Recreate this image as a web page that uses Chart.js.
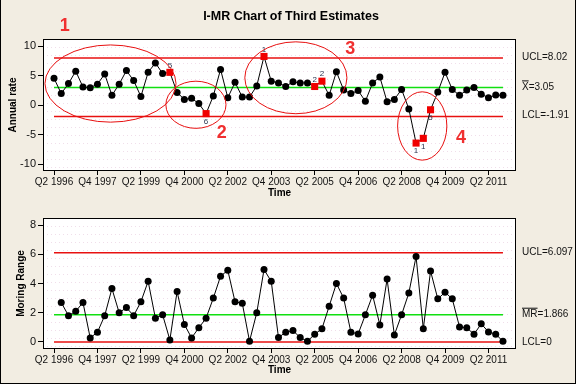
<!DOCTYPE html>
<html>
<head>
<meta charset="utf-8">
<script src="https://cdn.jsdelivr.net/npm/chart.js@4"></script>
<style>
  html, body { margin: 0; padding: 0; }
  body { width: 576px; height: 384px; background: #f2ede2; position: relative; overflow: hidden; }
  canvas { position: absolute; left: 0; }
  #topChart { top: 0; }
  #botChart { top: 200px; }
  #frame { position: absolute; left: 0; top: 0; width: 574px; height: 383px;
           border-left: 1px solid #000; border-right: 1px solid #000; border-bottom: 1px solid #000; }
</style>
</head>
<body>
<canvas id="topChart" width="576" height="200"></canvas>
<canvas id="botChart" width="576" height="184"></canvas>
<div id="frame"></div>
<script>
// quarters Q2 1996 .. Q4 2011, one point per quarter
const tickLabels = ['Q2 1996','Q4 1997','Q2 1999','Q4 2000','Q2 2002','Q4 2003','Q2 2005','Q4 2006','Q2 2008','Q4 2009','Q2 2011'];
const tickIndex = [0, 6, 12, 18, 24, 30, 36, 42, 48, 54, 60];

const individuals = [
  4.6, 2.0, 3.7, 5.8, 3.1, 3.0, 3.6, 5.3, 1.7, 3.6,
  5.9, 4.2, 1.5, 5.6, 7.2, 5.4, 5.6, 2.2, 1.0, 1.2,
  0.3, -1.4, 1.6, 6.1, 1.3, 3.9, 1.4, 1.4, 3.3, 8.3,
  4.1, 3.8, 3.2, 4.0, 3.8, 3.8, 3.2, 4.1, 1.7, 5.7,
  2.6, 2.0, 2.5, 0.7, 3.8, 4.8, 0.6, 1.0, 2.7, -0.6,
  -6.4, -5.6, -0.75, 2.25, 5.6, 2.7, 1.7, 2.6, 3.05, 1.9,
  1.3, 1.75, 1.7
];

const movingRanges = [
  null, 2.7, 1.8, 2.1, 2.7, 0.28, 0.67, 1.8, 3.65, 2.0,
  2.35, 1.8, 2.75, 4.15, 1.63, 1.86, 0.14, 3.45, 1.2, 0.28,
  0.97, 1.63, 3.0, 4.5, 4.9, 2.75, 2.65, 0.05, 2.0, 4.95,
  4.15, 0.3, 0.67, 0.78, 0.3, 0.05, 0.53, 0.9, 2.45, 4.0,
  3.0, 0.67, 0.55, 1.86, 3.2, 1.17, 4.3, 0.48, 1.86, 3.35,
  5.84, 0.9, 4.85, 2.95, 3.4, 2.95, 1.03, 0.97, 0.53, 1.24,
  0.69, 0.53, 0.05
];

// points failing a test: index, test number, label above?
const flagIndex = [16, 21, 29, 36, 37, 50, 51, 52];
const flagTest  = ['5', '6', '1', '2', '2', '1', '1', '5'];
const flagUp    = [true, false, true, true, true, false, false, false];

const iUCL = 8.02, iMean = 3.05, iLCL = -1.91;
const mrUCL = 6.097, mrMean = 1.866, mrLCL = 0;

// red circled regions on the I chart (data units)
const regionNames = ['1', '2', '3', '4'];
const regionX  = [7.8, 19.6, 33.4, 50.85];
const regionY  = [3.7, 0.1, 4.68, -3.5];
const regionRX = [9.05, 4.15, 7.05, 3.4];
const regionRY = [6.55, 4.0, 6.1, 5.8];
const regionLabelX = [1.5, 23.15, 40.9, 56.2];
const regionLabelY = [13.45, -4.7, 9.6, -5.5];

const RED = '#e81010', GREEN = '#10e010';
const FONT = "'Liberation Sans', Arial, sans-serif";
const last = individuals.length - 1;

function hline(v, color) {
  return { data: [{x: 0, y: v}, {x: last, y: v}], borderColor: color, borderWidth: 1.5,
           pointRadius: 0, fill: false, order: 2 };
}

function xScale(height, titlePad) {
  return {
    type: 'linear', min: -1.52, max: 63.8,
    afterBuildTicks: s => { s.ticks = tickIndex.map(v => ({value: v})); },
    afterFit: s => { s.height = height; },
    ticks: { callback: v => tickLabels[tickIndex.indexOf(v)], maxRotation: 0, autoSkip: false,
             padding: 1, color: '#111', font: {family: FONT, size: 10} },
    grid: { drawOnChartArea: false, tickLength: 4, color: '#000' },
    border: { display: false },
    title: { display: true, text: 'Time', color: '#000', padding: {top: 0, bottom: titlePad},
             font: {family: FONT, size: 10, weight: 'bold'} }
  };
}

function yScale(min, max, ticks, title, titlePad) {
  return {
    min: min, max: max,
    afterBuildTicks: s => { s.ticks = ticks.map(v => ({value: v})); },
    afterFit: s => { s.width = 43; },
    ticks: { padding: 2, color: '#111', font: {family: FONT, size: 11} },
    grid: { drawOnChartArea: false, tickLength: 5, color: '#000' },
    border: { display: false },
    title: { display: true, text: title, color: '#000', padding: {top: titlePad, bottom: 0},
             font: {family: FONT, size: 10, weight: 'bold'} }
  };
}

const plotFrame = {
  id: 'plotFrame',
  beforeDatasetsDraw(chart) {
    const {ctx, chartArea: a} = chart;
    ctx.save();
    ctx.fillStyle = '#fff';
    ctx.fillRect(a.left, a.top, a.width, a.height);
    // faint dotted background rows
    ctx.strokeStyle = 'rgba(230,200,220,0.6)';
    ctx.setLineDash([1, 3]);
    ctx.lineWidth = 1;
    for (let y = a.top + 8; y < a.bottom; y += 8) {
      ctx.beginPath(); ctx.moveTo(a.left, y + 0.5); ctx.lineTo(a.right, y + 0.5); ctx.stroke();
    }
    ctx.setLineDash([]);
    ctx.strokeStyle = '#000';
    ctx.strokeRect(a.left + 0.5, a.top + 0.5, a.width - 1, a.height - 1);
    ctx.restore();
  }
};

function sideLabels(items) {
  return {
    id: 'sideLabels',
    afterDraw(chart) {
      const {ctx, chartArea: a, scales: {y}} = chart;
      ctx.save();
      ctx.font = '10px ' + FONT;
      ctx.fillStyle = '#111';
      ctx.textBaseline = 'middle';
      const x0 = a.right + 6;
      items.forEach(it => {
        const py = y.getPixelForValue(it.v) + (it.dy || 0);
        ctx.fillText(it.text, x0, py);
        if (it.bar) {
          const w = ctx.measureText(it.bar).width;
          ctx.fillRect(x0, py - 7, w, 1);
        }
      });
      ctx.restore();
    }
  };
}

const topDecor = {
  id: 'topDecor',
  afterDraw(chart) {
    const {ctx, scales: {x, y}} = chart;
    ctx.save();
    // title
    ctx.font = 'bold 12.5px ' + FONT;
    ctx.fillStyle = '#000';
    ctx.textAlign = 'center';
    ctx.textBaseline = 'middle';
    ctx.fillText('I-MR Chart of Third Estimates', 291, 17);
    // test numbers next to flagged points
    ctx.font = '8px ' + FONT;
    ctx.fillStyle = '#2a3550';
    flagIndex.forEach((idx, k) => {
      const px = x.getPixelForValue(idx), py = y.getPixelForValue(individuals[idx]);
      ctx.fillText(flagTest[k], px, flagUp[k] ? py - 7 : py + 8);
    });
    // circled regions
    ctx.strokeStyle = RED;
    ctx.lineWidth = 1;
    regionX.forEach((cx, k) => {
      const px = x.getPixelForValue(cx), py = y.getPixelForValue(regionY[k]);
      const rx = x.getPixelForValue(cx + regionRX[k]) - px;
      const ry = py - y.getPixelForValue(regionY[k] + regionRY[k]);
      ctx.beginPath();
      ctx.ellipse(px, py, rx, ry, 0, 0, Math.PI * 2);
      ctx.stroke();
    });
    ctx.font = 'bold 18px ' + FONT;
    ctx.fillStyle = '#f03030';
    regionNames.forEach((t, k) => {
      ctx.fillText(t, x.getPixelForValue(regionLabelX[k]), y.getPixelForValue(regionLabelY[k]));
    });
    ctx.restore();
  }
};

const isFlag = i => flagIndex.includes(i);

new Chart(document.getElementById('topChart'), {
  type: 'line',
  data: {
    datasets: [
      {
        data: individuals.map((v, i) => ({x: i, y: v})),
        borderColor: '#000', borderWidth: 1, order: 1,
        pointStyle: c => isFlag(c.dataIndex) ? 'rect' : 'circle',
        pointRadius: c => isFlag(c.dataIndex) ? 5 : 3.5,
        pointBackgroundColor: c => isFlag(c.dataIndex) ? '#f00000' : '#000',
        pointBorderWidth: 0
      },
      hline(iUCL, RED), hline(iMean, GREEN), hline(iLCL, RED)
    ]
  },
  options: {
    responsive: false, animation: false,
    layout: { padding: {left: 0, right: 60, top: 39, bottom: 0} },
    plugins: { legend: {display: false}, tooltip: {enabled: false} },
    scales: {
      x: xScale(29, 1),
      y: yScale(-11.14, 11.26, [-10, -5, 0, 5, 10], 'Annual rate', 7.5)
    }
  },
  plugins: [plotFrame, topDecor, sideLabels([
    {v: iUCL, text: 'UCL=8.02', dy: -1},
    {v: iMean, text: 'X=3.05', bar: 'X'},
    {v: iLCL, text: 'LCL=-1.91', dy: -1}
  ])]
});

new Chart(document.getElementById('botChart'), {
  type: 'line',
  data: {
    datasets: [
      {
        data: movingRanges.map((v, i) => ({x: i, y: v})),
        borderColor: '#000', borderWidth: 1, order: 1,
        pointRadius: 3.5, pointBackgroundColor: '#000', pointBorderWidth: 0
      },
      hline(mrUCL, RED), hline(mrMean, GREEN), hline(mrLCL, RED)
    ]
  },
  options: {
    responsive: false, animation: false,
    layout: { padding: {left: 0, right: 60, top: 18, bottom: 0} },
    plugins: { legend: {display: false}, tooltip: {enabled: false} },
    scales: {
      x: xScale(35, 7.5),
      y: yScale(-0.48, 8.48, [0, 2, 4, 6, 8], 'Moring Range', 15.5)
    }
  },
  plugins: [plotFrame, sideLabels([
    {v: mrUCL, text: 'UCL=6.097', dy: -1},
    {v: mrMean, text: 'MR=1.866', bar: 'MR'},
    {v: mrLCL, text: 'LCL=0'}
  ])]
});
</script>
</body>
</html>
